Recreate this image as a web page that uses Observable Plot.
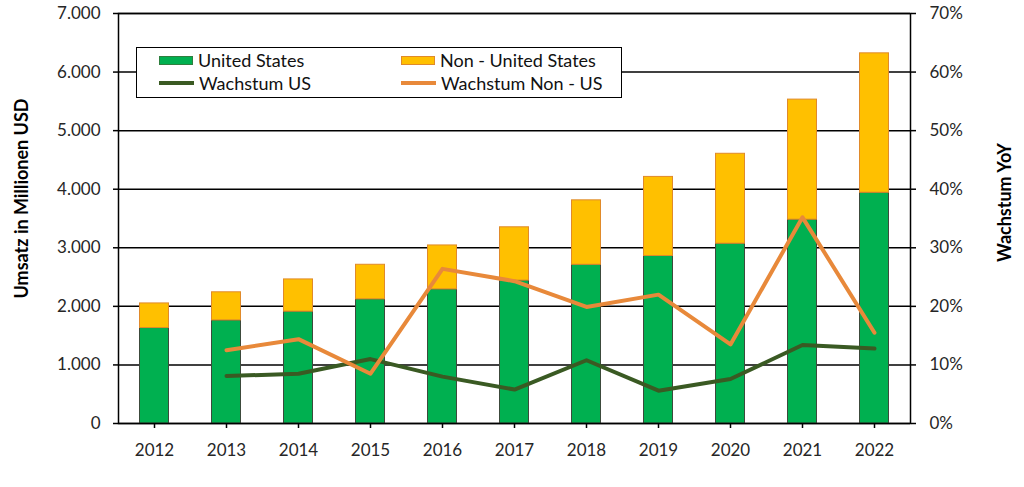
<!DOCTYPE html>
<html><head><meta charset="utf-8">
<script src="https://cdn.jsdelivr.net/npm/d3@7"></script>
<script src="https://cdn.jsdelivr.net/npm/@observablehq/plot@0.6"></script>
<style>
body{margin:0;background:#fff;}
#wrap{position:relative;width:1024px;height:487px;font-family:Lato,"Open Sans",sans-serif;}
#legend{position:absolute;left:136px;top:47px;width:486px;height:51px;border:1.5px solid #000;background:#fff;box-sizing:border-box;font-size:18px;color:#111;}
.item{position:absolute;display:flex;align-items:center;height:22px;}
.sw{width:34px;height:9px;box-sizing:border-box;margin-right:5px;}
.ln{width:35px;height:4px;margin-right:5px;}
</style></head>
<body><div id="wrap"></div>
<script>
const years = ["2012","2013","2014","2015","2016","2017","2018","2019","2020","2021","2022"];
const usRevenue = [1630,1760,1910,2120,2290,2440,2710,2860,3070,3480,3940];
const nonUsRevenue = [420,480,550,590,750,910,1100,1350,1535,2050,2380];
const growthUs = [null,8.1,8.5,11.0,8.0,5.8,10.8,5.6,7.6,13.4,12.8];
const growthNonUs = [null,12.5,14.4,8.5,26.4,24.3,19.9,22.0,13.5,35.2,15.5];
const leftTicks = [0,1000,2000,3000,4000,5000,6000,7000];
const rightTicks = [0,10,20,30,40,50,60,70];
const seriesNames = ["United States","Non - United States","Wachstum US","Wachstum Non - US"];

const colors = {us:"#00B050", nonUs:"#FFC000", gUs:"#3A5A23", gNonUs:"#E8893A"};
const pctToY = 7000/70;

const bars = [];
years.forEach((y,i)=>{
  bars.push({year:y, region:seriesNames[0], value:usRevenue[i]});
  bars.push({year:y, region:seriesNames[1], value:nonUsRevenue[i]});
});
const lineUs = years.map((y,i)=>({year:y, v:growthUs[i]})).filter(d=>d.v!=null);
const lineNonUs = years.map((y,i)=>({year:y, v:growthNonUs[i]})).filter(d=>d.v!=null);

const de = d3.formatLocale({decimal:",", thousands:".", grouping:[3], currency:["","€"]}).format(",");
const tickColor = "#262626";
const fs = 17;

const chart = Plot.plot({
  width:1024, height:487,
  marginLeft:118, marginRight:114, marginTop:13, marginBottom:64,
  style:{fontFamily:"Lato, 'Open Sans', sans-serif", fontSize:fs+"px", color:tickColor, background:"#fff"},
  x:{type:"band", domain:years, paddingInner:0.58, paddingOuter:0.29, label:null},
  y:{domain:[0,7000], label:null},
  color:{domain:seriesNames.slice(0,2), range:[colors.us, colors.nonUs]},
  marks:[
    Plot.gridY(leftTicks, {stroke:"#000", strokeOpacity:1, strokeWidth:1.5}),
    Plot.barY(bars, {x:"year", y:"value", z:"region", fill:"region",
      stroke:d=>d.region===seriesNames[0]?"#3c4a3c":"#E08A2A", strokeWidth:1, insetLeft:0.5, insetRight:0.5}),
    Plot.line(lineUs, {x:"year", y:d=>d.v*pctToY, stroke:colors.gUs, strokeWidth:4}),
    Plot.line(lineNonUs, {x:"year", y:d=>d.v*pctToY, stroke:colors.gNonUs, strokeWidth:4}),
    Plot.frame({stroke:"#000", strokeWidth:1.5}),
    Plot.ruleX([0], {frameAnchor:"left"}),
    Plot.axisY(leftTicks, {anchor:"left", tickFormat:de, tickSize:5, tickPadding:13, label:null, fontSize:fs, stroke:"#000", strokeWidth:1.5}),
    Plot.axisY(rightTicks.map(d=>d*pctToY), {anchor:"right", tickFormat:d=>Math.round(d/pctToY)+"%", tickSize:5, tickPadding:14, label:null, fontSize:fs, stroke:"#000", strokeWidth:1.5}),
    Plot.axisX({tickSize:5, tickPadding:15, label:null, fontSize:fs, stroke:"#000", strokeWidth:1.5}),
    Plot.text(["Umsatz in Millionen USD"], {frameAnchor:"left", textAnchor:"middle", rotate:-90, dx:-96, dy:-20, fontWeight:"bold", fontSize:18, fill:"#000"}),
    Plot.text(["Wachstum YoY"], {frameAnchor:"right", textAnchor:"middle", rotate:-90, dx:95, dy:-16, fontWeight:"bold", fontSize:18, fill:"#000"})
  ]
});
const wrap = document.getElementById("wrap");
wrap.appendChild(chart);

const legend = document.createElement("div");
legend.id = "legend";
const items = [
  {name:seriesNames[0], type:"sw", fill:colors.us, stroke:"#2f7f3f", left:22, top:1},
  {name:seriesNames[1], type:"sw", fill:colors.nonUs, stroke:"#E08A2A", left:264, top:1},
  {name:seriesNames[2], type:"ln", fill:colors.gUs, left:22, top:24},
  {name:seriesNames[3], type:"ln", fill:colors.gNonUs, left:264, top:24}
];
items.forEach(it=>{
  const d = document.createElement("div");
  d.className="item"; d.style.left=it.left+"px"; d.style.top=it.top+"px";
  const s = document.createElement("div");
  s.className=it.type; s.style.background=it.fill;
  if(it.stroke) s.style.border="1px solid "+it.stroke;
  d.appendChild(s);
  const t = document.createElement("span"); t.textContent=it.name; d.appendChild(t);
  legend.appendChild(d);
});
wrap.appendChild(legend);
</script></body></html>
